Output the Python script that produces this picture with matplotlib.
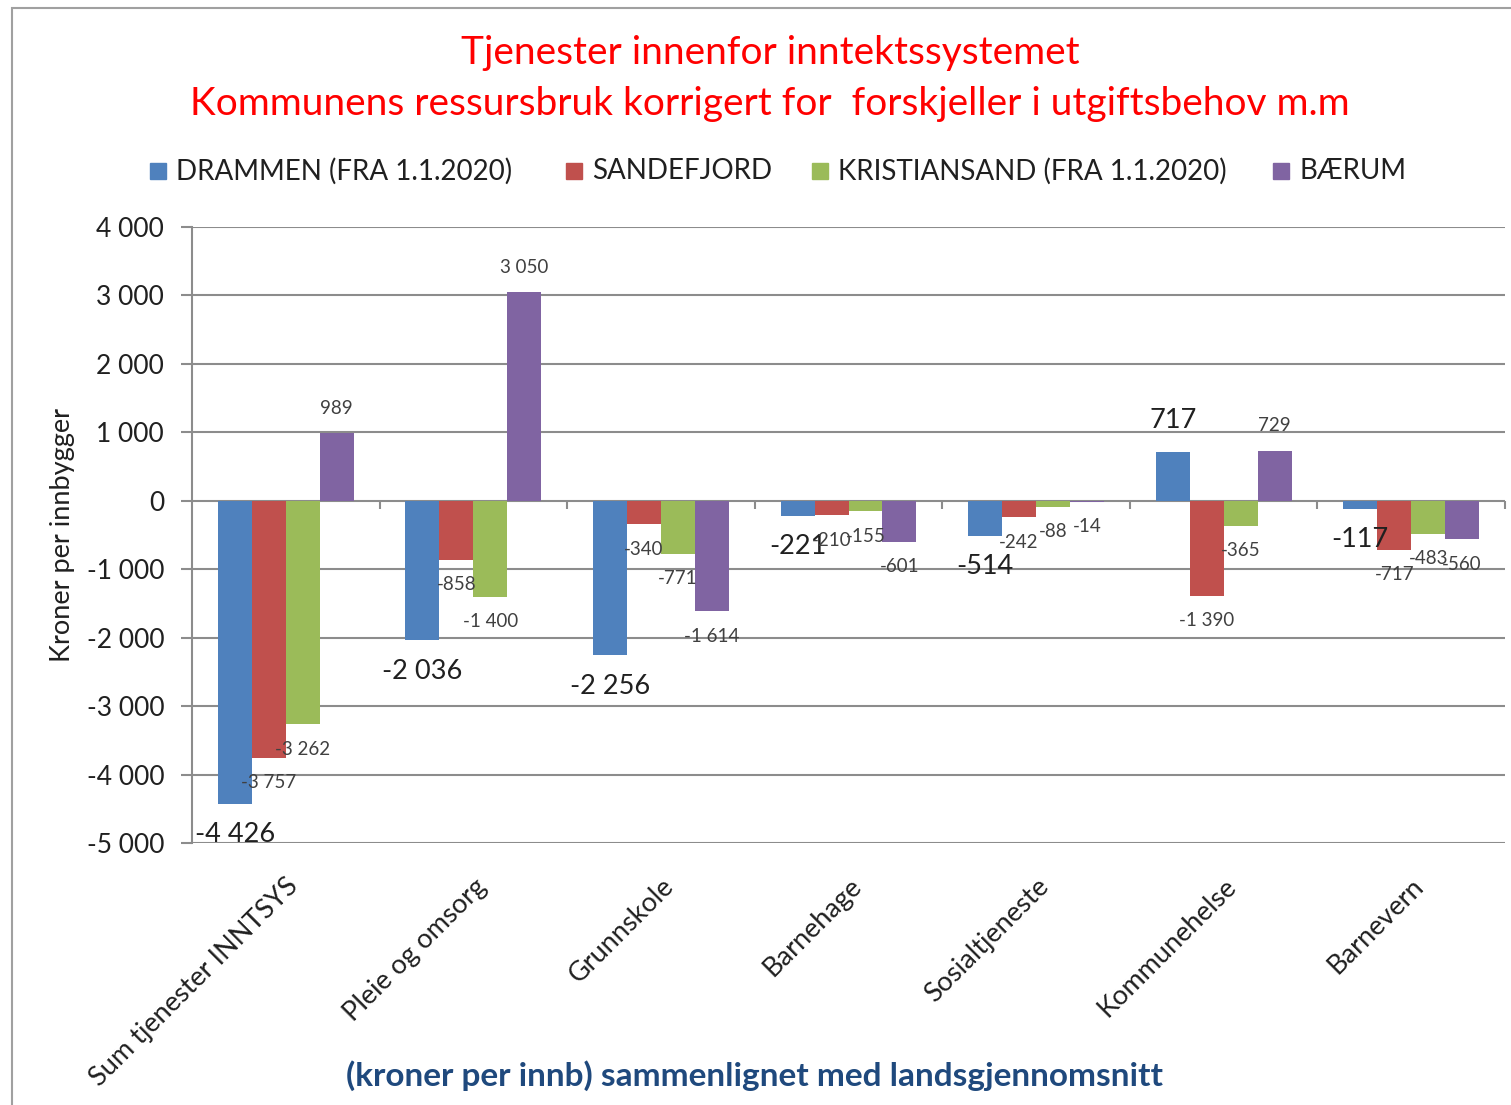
import numpy as np
import matplotlib.pyplot as plt
from matplotlib.patches import Rectangle
from matplotlib.ticker import FuncFormatter

plt.rcParams['font.family'] = ['Lato', 'DejaVu Sans']

# Data
kategorier = ['Sum tjenester INNTSYS', 'Pleie og omsorg', 'Grunnskole', 'Barnehage',
              'Sosialtjeneste', 'Kommunehelse', 'Barnevern']
serier = ['DRAMMEN (FRA 1.1.2020)', 'SANDEFJORD', 'KRISTIANSAND (FRA 1.1.2020)', 'BÆRUM']
drammen = [-4426, -2036, -2256, -221, -514, 717, -117]
sandefjord = [-3757, -858, -340, -210, -242, -1390, -717]
kristiansand = [-3262, -1400, -771, -155, -88, -365, -483]
baerum = [989, 3050, -1614, -601, -14, 729, -560]
verdier = [drammen, sandefjord, kristiansand, baerum]
farger = ['#4F81BD', '#C0504D', '#9BBB59', '#8064A2']
yticks = [4000, 3000, 2000, 1000, 0, -1000, -2000, -3000, -4000, -5000]


def tusen(v):
    s = f'{abs(int(v)):,}'.replace(',', ' ')
    return ('-' if v < 0 else '') + s


fig = plt.figure(figsize=(15.11, 11.05), dpi=100)
ax = fig.add_axes([192 / 1511, 1 - 843 / 1105, 1313 / 1511, 616 / 1105])

x = np.arange(len(kategorier))
bredde = 0.181
for j, (navn, vals, farge) in enumerate(zip(serier, verdier, farger)):
    pos = x + (j - 1.5) * bredde
    ax.bar(pos, vals, width=bredde, color=farge, zorder=3)
    for px, v in zip(pos, vals):
        if j == 0:
            off, fs, col = 31, 19.5, '#202020'
        else:
            off, fs, col = 25, 13.5, '#404040'
        dy = off if v > 0 else -off
        ax.annotate(tusen(v), (px, v), xytext=(0, dy), textcoords='offset pixels',
                    ha='center', va='center', fontsize=fs, color=col, zorder=5)

ax.set_xlim(-0.5, len(kategorier) - 0.5)
ax.set_ylim(-5000, 4000)
ax.set_yticks(yticks)
ax.yaxis.set_major_formatter(FuncFormatter(lambda v, p: tusen(v)))
ax.grid(axis='y', color='#8C8C8C', linewidth=1.5, zorder=1)
for s in ['top', 'right', 'bottom']:
    ax.spines[s].set_visible(False)
ax.spines['left'].set_color('#8C8C8C')
ax.spines['left'].set_linewidth(1.5)
ax.tick_params(axis='y', length=8, width=1.5, color='#8C8C8C', labelsize=19, pad=12,
               labelcolor='#202020')

# category tick marks on the zero line
grenser = np.arange(1, len(kategorier) + 1) - 0.5
ax.vlines(grenser, 0, -120, color='#8C8C8C', linewidth=1.5, zorder=2, clip_on=False)

ax.set_xticks(x)
ax.set_xticklabels(kategorier, rotation=45, ha='right', va='top', rotation_mode='anchor',
                   fontsize=19.5, color='#202020')
ax.tick_params(axis='x', length=0, pad=22)

ax.set_ylabel('Kroner per innbygger', fontsize=19.5, color='#202020')
ax.yaxis.set_label_coords(-0.089, 0.5)

# Title
fig.text(770 / 1511, 1 - 53 / 1105, 'Tjenester innenfor inntektssystemet',
         ha='center', va='center', fontsize=28, color='#FF0000')
fig.text(770 / 1511, 1 - 104 / 1105, 'Kommunens ressursbruk korrigert for  forskjeller i utgiftsbehov m.m',
         ha='center', va='center', fontsize=28, color='#FF0000')

# Legend
leg_x = [150, 566, 812, 1273]
for lx, navn, farge in zip(leg_x, serier, farger):
    fig.patches.append(Rectangle((lx / 1511, 1 - 179 / 1105), 16 / 1511, 16 / 1105,
                                 transform=fig.transFigure, color=farge))
    fig.text((lx + 26) / 1511, 1 - 171 / 1105, navn, ha='left', va='center',
             fontsize=20, color='#202020')

# x-axis title
fig.text(755 / 1511, 1 - 1076 / 1105, '(kroner per innb) sammenlignet med landsgjennomsnitt',
         ha='center', va='center', fontsize=24, fontweight='bold', color='#1F497D')

# outer frame
fig.patches.append(Rectangle((12 / 1511, -0.1), 1.2, 1 - 8 / 1105 + 0.1,
                             transform=fig.transFigure, fill=False,
                             edgecolor='#A0A0A0', linewidth=1.5))

fig.savefig('out.png', dpi=100)
